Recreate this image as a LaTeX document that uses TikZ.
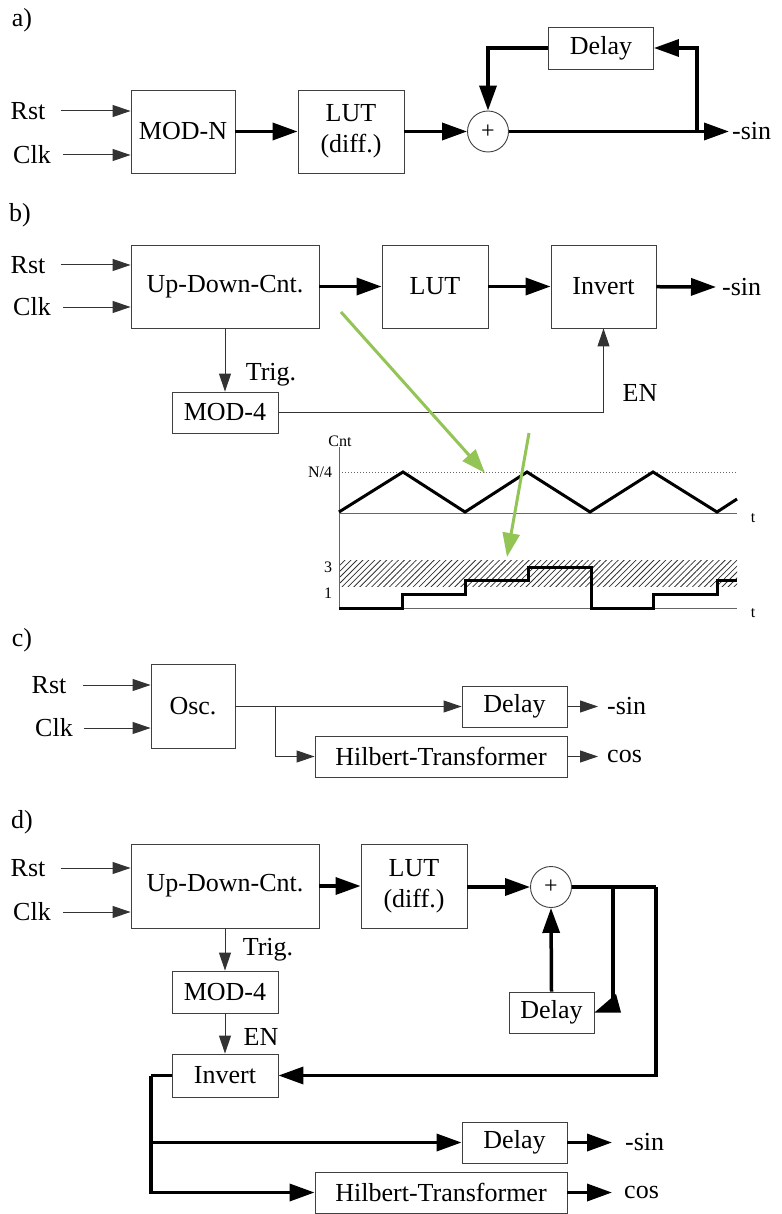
\documentclass[tikz,border=0pt]{standalone}
\usepackage{fontspec}
\setmainfont{Liberation Serif}
\usetikzlibrary{arrows.meta,patterns.meta,calc}
\definecolor{arrgreen}{RGB}{146,196,86}
\begin{document}
\begin{tikzpicture}[x=1pt,y=-1pt,
  font=\fontsize{26}{31}\selectfont,
  blk/.style={draw=black!75, line width=0.9pt, inner sep=0pt, align=center, fill=white},
  txt/.style={inner sep=0pt, anchor=center},
  outtxt/.style={inner sep=0pt, anchor=west},
  thinarr/.style={draw=black!80, line width=1pt, -{Triangle[length=18pt,width=12pt]}},
  thinline/.style={draw=black!80, line width=1pt},
  thickarr/.style={line width=3.5pt, -{Triangle[length=25pt,width=17pt]}},
  thickline/.style={line width=3.5pt},
  small/.style={font=\fontsize{16}{18}\selectfont, inner sep=0pt},
  sumnode/.style={circle, draw=black!75, line width=0.9pt, minimum size=41pt, inner sep=0pt, font=\fontsize{24}{26}\selectfont, fill=white},
  grarr/.style={draw=arrgreen, line width=3pt, -{Triangle[length=24pt,width=17pt]}},
  wave/.style={line width=3pt, line join=miter},
  axis/.style={draw=black!60, line width=1pt},
]
\useasboundingbox (0,0) rectangle (781,1214);

% ================= a) =================
\node[txt] (la) at (22,20) {a)};
\node[txt] (aRst) at (28,111) {Rst};
\node[txt] (aClk) at (32,155) {Clk};
\node[blk, minimum width=104pt, minimum height=83pt] (aMod) at (183,131.5) {MOD-N};
\node[blk, minimum width=106pt, minimum height=83pt] (aLut) at (351,131.5) {LUT\\(diff.)};
\node[sumnode] (aSum) at (488,131.5) {+};
\node[blk, minimum width=105pt, minimum height=42pt] (aDelay) at (601,48) {Delay};
\node[outtxt] (aSin) at (732,131.5) {-sin};
\coordinate (aSplit) at (697,131.5);

\draw[thinarr] ([xshift=15pt]aRst.east) -- (aRst -| aMod.west);
\draw[thinarr] ([xshift=12pt]aClk.east) -- (aClk -| aMod.west);
\draw[thickarr] (aMod) -- (aLut);
\draw[thickarr] (aLut) -- (aSum);
\draw[thickarr] (aSum) -- ([xshift=-3pt]aSin.west);
\draw[thickarr] (aSplit) |- (aDelay.east);
\draw[thickarr] (aDelay.west) -| (aSum.north);

% ================= b) =================
\node[txt] (lb) at (20,215) {b)};
\node[txt] (bRst) at (28,265) {Rst};
\node[txt] (bClk) at (32,307) {Clk};
\node[blk, minimum width=188pt, minimum height=83pt] (bCnt) at (225,286.5) {Up-Down-Cnt.};
\node[blk, minimum width=106pt, minimum height=83pt] (bLut) at (435,286.5) {LUT};
\node[blk, minimum width=105pt, minimum height=83pt] (bInv) at (603.5,286.5) {Invert};
\node[outtxt] (bSin) at (722,287) {-sin};
\node[blk, minimum width=106pt, minimum height=41pt] (bMod) at (225,412.5) {MOD-4};
\node[txt] (bTrig) at (271,375) {Trig.};
\node[txt] (bEN) at (640,393) {EN};

\draw[thinarr] ([xshift=15pt]bRst.east) -- (bRst -| bCnt.west);
\draw[thinarr] ([xshift=12pt]bClk.east) -- (bClk -| bCnt.west);
\draw[thickarr] (bCnt) -- (bLut);
\draw[thickarr] (bLut) -- (bInv);
\draw[thickarr] (bInv) -- ([xshift=-6pt]bSin.west);
\draw[thinarr] (bCnt.south) -- (bMod.north);
\draw[thinarr] (bMod.east) -| (bInv.south);

% chart
\node[small] (cnt) at (340,441) {Cnt};
\node[small] (n4) at (320,472) {N/4};
\node[small] (l3) at (328,567) {3};
\node[small] (l1) at (328,593) {1};
\node[small] (t1) at (753,518) {t};
\node[small] (t2) at (753,613) {t};
\fill[pattern={Lines[angle=45,distance=4.2pt,line width=0.8pt]}, pattern color=black!80] (339,560) rectangle (737,586);
\draw[axis, dotted] (339,472) -- (737,472);
\draw[axis] (339,447) -- (339,608);
\draw[axis] (339,513) -- (737,513);
\draw[axis] (339,608) -- (737,608);
\draw[wave] (339,512) -- (403,472) -- (465,512) -- (527,472) -- (590,512) -- (653,472) -- (717,512) -- (737,499);
\draw[wave] (339,608) -| (402,594) -| (465,580) -| (528,567) -| (591,608) -| (653,594) -| (717,580) -- (737,580);

\draw[grarr] (341,312) -- (485,473);
\draw[grarr] (529,433) -- (507,557);

% ================= c) =================
\node[txt] (lc) at (22,640) {c)};
\node[txt] (cRst) at (49,685) {Rst};
\node[txt] (cClk) at (54,728) {Clk};
\node[blk, minimum width=84pt, minimum height=84pt] (cOsc) at (193,706) {Osc.};
\node[blk, minimum width=105pt, minimum height=41pt] (cDelay) at (514.5,706.5) {Delay};
\node[blk, minimum width=252pt, minimum height=41pt] (cHil) at (441,756.5) {Hilbert-Transformer};
\node[outtxt] (cSin) at (607,706.5) {-sin};
\node[outtxt] (cCos) at (607,756.5) {cos};
\coordinate (cBr) at (275,706.5);

\draw[thinarr] ([xshift=16pt]cRst.east) -- (cRst -| cOsc.west);
\draw[thinarr] ([xshift=11pt]cClk.east) -- (cClk -| cOsc.west);
\draw[thinarr] (cOsc.east |- cDelay) -- (cDelay.west);
\draw[thinarr] (cBr) |- (cHil.west);
\draw[thinarr] (cDelay.east) -- ([xshift=-9pt]cSin.west);
\draw[thinarr] (cHil.east) -- ([xshift=-9pt]cCos.west);

% ================= d) =================
\node[txt] (ld) at (22,822) {d)};
\node[txt] (dRst) at (28,868) {Rst};
\node[txt] (dClk) at (32,912) {Clk};
\node[blk, minimum width=188pt, minimum height=84pt] (dCnt) at (225,886) {Up-Down-Cnt.};
\node[blk, minimum width=106pt, minimum height=84pt] (dLut) at (414,886) {LUT\\(diff.)};
\node[sumnode] (dSum) at (551,887) {+};
\node[blk, minimum width=85pt, minimum height=41pt] (dDelay) at (551.5,1012.5) {Delay};
\node[blk, minimum width=106pt, minimum height=42pt] (dMod) at (225,992) {MOD-4};
\node[blk, minimum width=106pt, minimum height=43pt] (dInv) at (225,1075.5) {Invert};
\node[txt] (dTrig) at (268,950) {Trig.};
\node[txt] (dEN) at (261,1037) {EN};
\node[blk, minimum width=105pt, minimum height=41pt] (dDelay2) at (514.5,1142.5) {Delay};
\node[blk, minimum width=252pt, minimum height=41pt] (dHil) at (441,1192.5) {Hilbert-Transformer};
\node[outtxt] (dSin) at (625,1142.5) {-sin};
\node[outtxt] (dCos) at (624,1192.5) {cos};
\coordinate (dB1) at (613,887);
\coordinate (dB2) at (656,887);
\coordinate (dC) at (151,1075.5);

\draw[thinarr] ([xshift=15pt]dRst.east) -- (dRst -| dCnt.west);
\draw[thinarr] ([xshift=12pt]dClk.east) -- (dClk -| dCnt.west);
\draw[thickarr] (dCnt) -- (dLut);
\draw[thickarr] (dLut.east |- dSum) -- (dSum.west);
\draw[thickline] (dSum.east) -- (dB2);
\draw[thickarr] (dB2) |- (dInv.east);
\draw[thickline] (dB1) -- (613,1008);
\fill (dDelay.east) -- (616,994) -- (621,1012.5) -- cycle;
\draw[thickarr] (dDelay.north) -- (dSum.south);
\draw[thinarr] (dCnt.south) -- (dMod.north);
\draw[thinarr] (dMod.south) -- (dInv.north);
\draw[thickline] (dInv.west) -- (dC);
\draw[thickarr] (dC) |- (dHil.west);
\draw[thickarr] (dC |- dDelay2) -- (dDelay2.west);
\draw[thickarr] (dDelay2.east) -- ([xshift=-13pt]dSin.west);
\draw[thickarr] (dHil.east) -- ([xshift=-12pt]dCos.west);
\end{tikzpicture}
\end{document}
